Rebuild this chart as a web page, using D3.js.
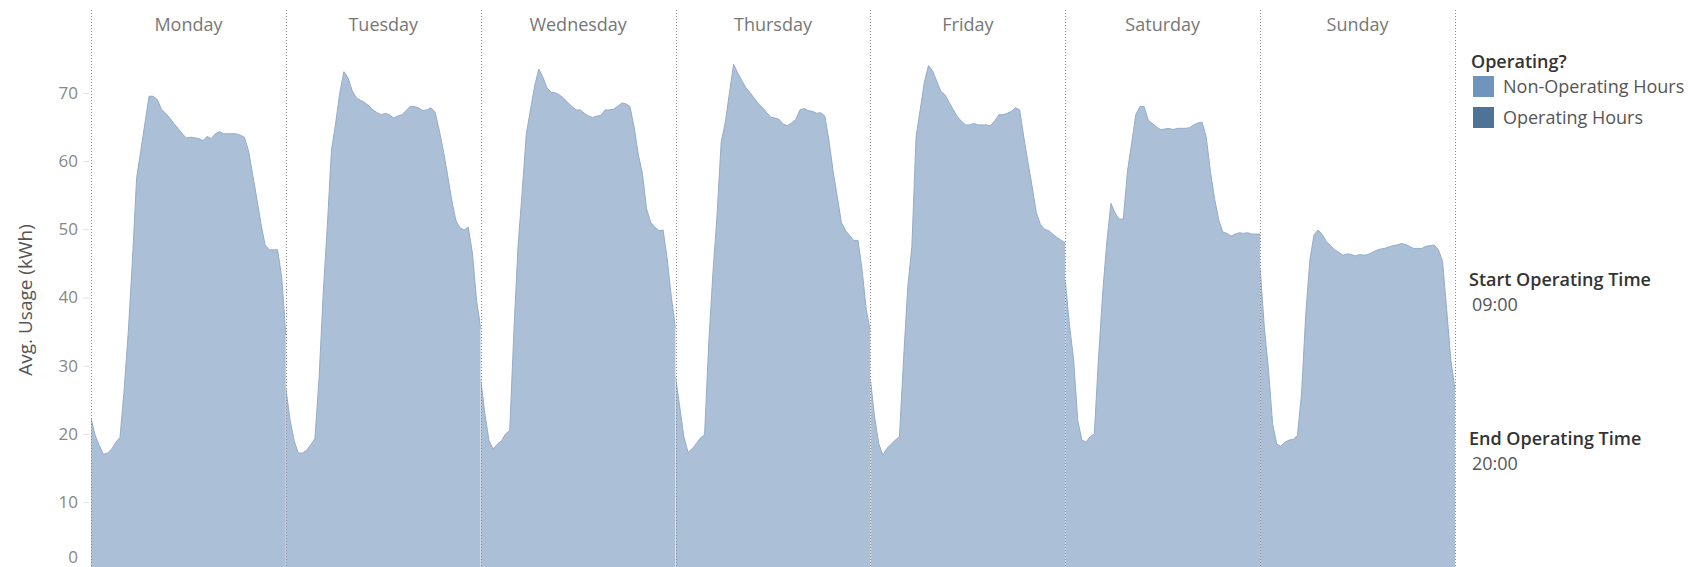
<!DOCTYPE html>
<html>
<head>
<meta charset="utf-8">
<script src="https://cdnjs.cloudflare.com/ajax/libs/d3/7.8.5/d3.min.js"></script>
<style>
  html, body { margin: 0; padding: 0; background: #fff; }
  body { width: 1693px; height: 567px; overflow: hidden; }
  svg text { font-family: "Open Sans", "Noto Sans", sans-serif; }
</style>
</head>
<body>
<script>
// day panels, one area per day, half-hour readings 00:00 .. 23:30
var days = ['Monday', 'Tuesday', 'Wednesday', 'Thursday', 'Friday', 'Saturday', 'Sunday'];

var monday = [22.3, 19.8, 18.3, 17.0, 17.2, 17.8, 18.8, 19.5, 26.5, 35.0, 45.5, 57.5, 61.5, 65.5, 69.5, 69.5,
  69.0, 67.6, 67.0, 66.3, 65.5, 64.8, 64.0, 63.4, 63.5, 63.4, 63.3, 63.0, 63.6, 63.3, 64.0, 64.3,
  64.0, 64.0, 64.0, 64.0, 63.8, 63.5, 61.5, 58.0, 54.5, 50.8, 47.7, 47.0, 47.0, 47.0, 43.0, 34.5];
var tuesday = [26.7, 22.1, 19.0, 17.2, 17.2, 17.6, 18.4, 19.3, 28.0, 40.5, 50.5, 61.6, 65.5, 70.0, 73.1, 72.2,
  70.3, 69.3, 68.9, 68.6, 68.1, 67.5, 67.1, 66.8, 67.0, 66.8, 66.3, 66.6, 66.8, 67.4, 68.0, 68.0,
  67.8, 67.4, 67.5, 67.8, 67.2, 64.5, 61.5, 58.0, 54.3, 51.3, 50.2, 49.9, 50.3, 46.5, 39.6, 35.5];
var wednesday = [28.0, 23.0, 19.0, 17.8, 18.5, 19.0, 20.0, 20.5, 35.0, 47.5, 55.5, 64.0, 67.5, 71.0, 73.5, 72.3,
  70.7, 70.1, 70.0, 69.7, 69.2, 68.6, 68.0, 67.5, 67.5, 67.0, 66.6, 66.4, 66.6, 66.7, 67.5, 67.5,
  67.6, 68.0, 68.5, 68.4, 68.0, 65.0, 61.0, 58.2, 53.0, 51.0, 50.3, 49.8, 49.9, 45.5, 40.0, 35.5];
var thursday = [28.4, 24.0, 19.6, 17.3, 17.8, 18.6, 19.4, 19.9, 33.3, 43.5, 52.0, 62.8, 65.7, 70.0, 74.2, 72.9,
  71.8, 70.7, 70.0, 69.2, 68.4, 67.8, 67.1, 66.4, 66.3, 66.1, 65.4, 65.2, 65.6, 66.1, 67.5, 67.7,
  67.4, 67.3, 67.0, 67.1, 66.6, 63.0, 58.5, 54.8, 51.0, 49.8, 49.1, 48.3, 48.4, 44.0, 38.2, 35.0];
var friday = [28.0, 22.5, 18.6, 16.9, 17.9, 18.5, 19.1, 19.6, 31.0, 41.5, 47.5, 63.5, 67.5, 71.5, 74.0, 73.2,
  71.7, 70.2, 69.7, 68.6, 67.5, 66.5, 65.8, 65.3, 65.3, 65.5, 65.3, 65.3, 65.3, 65.2, 65.9, 66.8,
  66.8, 67.0, 67.3, 67.8, 67.5, 63.5, 59.8, 56.3, 52.5, 50.7, 50.0, 49.8, 49.3, 48.8, 48.4, 48.0];
var saturday = [42.5, 36.0, 31.0, 22.0, 19.1, 18.8, 19.6, 20.0, 31.0, 40.5, 48.0, 53.8, 52.4, 51.5, 51.5, 58.5,
  62.6, 66.8, 68.0, 68.0, 66.0, 65.5, 65.0, 64.6, 64.7, 64.8, 64.6, 64.8, 64.8, 64.8, 64.9, 65.3,
  65.6, 65.7, 63.5, 58.5, 54.5, 51.4, 49.6, 49.4, 49.0, 49.3, 49.5, 49.4, 49.5, 49.3, 49.3, 49.3];
var sunday = [44.3, 35.7, 29.5, 21.5, 18.5, 18.2, 18.8, 19.1, 19.2, 19.8, 26.0, 37.5, 45.5, 49.2, 49.9, 49.2,
  48.2, 47.6, 47.0, 46.6, 46.2, 46.4, 46.3, 46.1, 46.3, 46.2, 46.3, 46.6, 46.9, 47.1, 47.2, 47.4,
  47.6, 47.7, 47.9, 47.8, 47.5, 47.2, 47.2, 47.2, 47.5, 47.6, 47.7, 47.0, 45.3, 38.2, 30.8, 26.5];

var usage = [monday, tuesday, wednesday, thursday, friday, saturday, sunday];

var yTicks = [0, 10, 20, 30, 40, 50, 60, 70];
var yTitle = 'Avg. Usage (kWh)';

var legendTitle = 'Operating?';
var legendItems = ['Non-Operating Hours', 'Operating Hours'];
var legendColors = ['#7094bb', '#4f7297'];

var startLabel = 'Start Operating Time';
var startTime = '09:00';
var endLabel = 'End Operating Time';
var endTime = '20:00';

var width = 1693;
var height = 567;

var plotLeft = 91;
var plotRight = 1455;
var plotTop = 10;

var svg = d3.select('body').append('svg')
  .attr('width', width)
  .attr('height', height);

var xDay = d3.scaleBand().domain(days).range([plotLeft, plotRight]);
var y = d3.scaleLinear().domain([0, 82]).range([570.4, 11]);

var defs = svg.append('defs');

// one panel per day
days.forEach(function (day, k) {
  var x0 = xDay(day);
  var x1 = x0 + xDay.bandwidth();
  var values = usage[k];
  var x = d3.scaleLinear().domain([0, (values.length - 1) / 2]).range([x0, x1]);

  defs.append('clipPath').attr('id', 'clip' + k)
    .append('rect')
    .attr('x', x0).attr('y', 0)
    .attr('width', x1 - x0).attr('height', height);

  var area = d3.area()
    .x(function (d, i) { return x(i / 2); })
    .y0(y(0))
    .y1(function (d) { return y(d); });

  var line = d3.line()
    .x(function (d, i) { return x(i / 2); })
    .y(function (d) { return y(d); });

  var g = svg.append('g').attr('clip-path', 'url(#clip' + k + ')');

  g.append('path')
    .datum(values)
    .attr('d', area)
    .attr('fill', '#abbfd6');

  g.append('path')
    .datum(values)
    .attr('d', line)
    .attr('fill', 'none')
    .attr('stroke', '#93acca')
    .attr('stroke-width', 1);

  svg.append('text')
    .attr('x', (x0 + x1) / 2)
    .attr('y', 25)
    .attr('dy', '0.35em')
    .attr('text-anchor', 'middle')
    .attr('fill', '#777')
    .style('font-size', '18px')
    .text(day);
});

// dotted dividers between the days
var edges = days.map(function (d) { return xDay(d); }).concat([plotRight]);

svg.selectAll('line.divider')
  .data(edges)
  .enter().append('line')
  .attr('class', 'divider')
  .attr('x1', function (d) { return Math.round(d) + 0.5; })
  .attr('x2', function (d) { return Math.round(d) + 0.5; })
  .attr('y1', plotTop)
  .attr('y2', height)
  .attr('stroke', '#8a8a8a')
  .attr('stroke-width', 1)
  .attr('stroke-dasharray', '1,2');

// y axis
var yAxis = svg.append('g')
  .attr('transform', 'translate(89,0)')
  .call(d3.axisLeft(y).tickValues(yTicks).tickSize(6).tickPadding(5));

yAxis.select('.domain').remove();
yAxis.selectAll('.tick line').attr('stroke', '#e2e2e2');
yAxis.selectAll('.tick text')
  .attr('fill', '#888')
  .style('font-size', '17px')
  .style('font-family', '"Open Sans", "Noto Sans", sans-serif');

// zero label sits above the cut-off bottom edge
yAxis.selectAll('.tick')
  .filter(function (d) { return d === 0; })
  .select('text')
  .attr('y', 557 - y(0));

svg.append('text')
  .attr('transform', 'translate(25,300) rotate(-90)')
  .attr('text-anchor', 'middle')
  .attr('dy', '0.35em')
  .attr('fill', '#555')
  .style('font-size', '19px')
  .text(yTitle);

// legend
var legend = svg.append('g').attr('transform', 'translate(1472,0)');

legend.append('text')
  .attr('x', -1).attr('y', 62).attr('dy', '0.35em')
  .attr('fill', '#333')
  .style('font-size', '18px')
  .style('font-weight', 600)
  .text(legendTitle);

legendItems.forEach(function (item, i) {
  legend.append('rect')
    .attr('x', 1).attr('y', 76 + i * 31)
    .attr('width', 21).attr('height', 21)
    .attr('fill', legendColors[i]);

  legend.append('text')
    .attr('x', 31).attr('y', 87 + i * 31).attr('dy', '0.35em')
    .attr('fill', '#555')
    .style('font-size', '18px')
    .text(item);
});

function parameter(label, value, top) {
  legend.append('text')
    .attr('x', -3).attr('y', top).attr('dy', '0.35em')
    .attr('fill', '#333')
    .style('font-size', '18px')
    .style('font-weight', 600)
    .text(label);

  legend.append('text')
    .attr('x', 0).attr('y', top + 25).attr('dy', '0.35em')
    .attr('fill', '#555')
    .style('font-size', '18px')
    .text(value);
}

parameter(startLabel, startTime, 280);
parameter(endLabel, endTime, 439);
</script>
</body>
</html>
